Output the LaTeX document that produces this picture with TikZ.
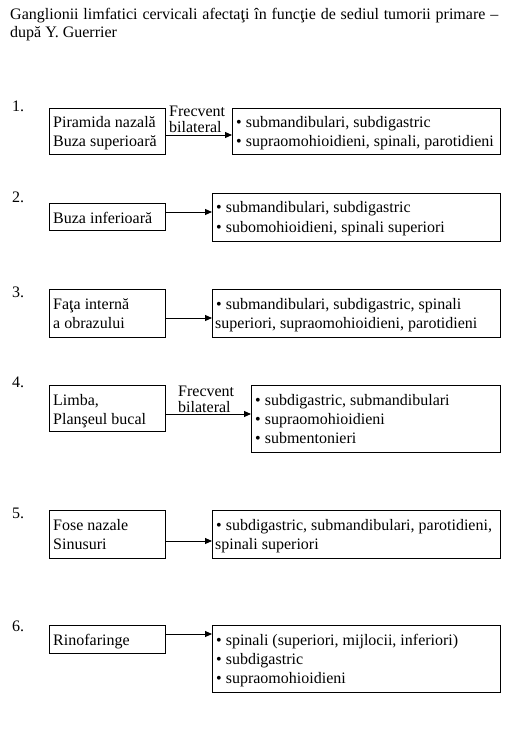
\documentclass[tikz,border=0pt]{standalone}
\usepackage{fontspec}
\setmainfont{Liberation Serif}
\usetikzlibrary{arrows.meta}
\tikzset{
  box/.style={draw, line width=0.9pt, inner sep=0pt, anchor=north west},
  txt/.style={anchor=base west, inner sep=0pt, font=\fontsize{16pt}{19pt}\selectfont},
  arr/.style={line width=0.9pt, -{Triangle[length=7pt,width=6pt]}}
}
\begin{document}
\begin{tikzpicture}[x=1pt,y=-1pt]
\useasboundingbox[fill=white] (0,0) rectangle (512,743);
% title
\node[txt] (title1) at (10,20) {\hbox to 488pt{Ganglionii limfatici cervicali afectaţi în funcţie de sediul tumorii primare –}};
\node[txt] (title2) at (10,38) {după Y. Guerrier};
% numbers
\node[txt] (n1) at (12,112) {1.};
\node[txt] (n2) at (12,203) {2.};
\node[txt] (n3) at (12,297) {3.};
\node[txt] (n4) at (12,387) {4.};
\node[txt] (n5) at (12,518) {5.};
\node[txt] (n6) at (12,631) {6.};
% boxes
\node[box, minimum width=116pt, minimum height=46pt] (l1) at (49,108) {};
\node[box, minimum width=268pt, minimum height=46pt] (r1) at (232,108) {};
\node[box, minimum width=116pt, minimum height=27pt] (l2) at (49,203) {};
\node[box, minimum width=288pt, minimum height=48pt] (r2) at (212,193) {};
\node[box, minimum width=116pt, minimum height=48pt] (l3) at (49,289) {};
\node[box, minimum width=288pt, minimum height=48pt] (r3) at (212,289) {};
\node[box, minimum width=116pt, minimum height=46pt] (l4) at (49,385) {};
\node[box, minimum width=249pt, minimum height=67pt] (r4) at (251,385) {};
\node[box, minimum width=116pt, minimum height=48pt] (l5) at (49,510) {};
\node[box, minimum width=288pt, minimum height=48pt] (r5) at (212,510) {};
\node[box, minimum width=116pt, minimum height=28pt] (l6) at (49,625) {};
\node[box, minimum width=288pt, minimum height=67pt] (r6) at (212,625) {};
% arrows
\draw[arr] (l1.east |- 0,135) -- (r1.west |- 0,135);
\draw[arr] (l2.east |- 0,212) -- (r2.west |- 0,212);
\draw[arr] (l3.east |- 0,318) -- (r3.west |- 0,318);
\draw[arr] (l4.east |- 0,414) -- (r4.west |- 0,414);
\draw[arr] (l5.east |- 0,541) -- (r5.west |- 0,541);
\draw[arr] (l6.east |- 0,634) -- (r6.west |- 0,634);
% arrow labels
\node[txt] (f1a) at (169,117) {Frecvent};
\node[txt] (f1b) at (169,133) {bilateral};
\node[txt] (f4a) at (178,396) {Frecvent};
\node[txt] (f4b) at (178,412) {bilateral};
% left texts
\node[txt] (a1) at (53,128) {Piramida nazală};
\node[txt] (a2) at (53,147) {Buza superioară};
\node[txt] (b1) at (53,223) {Buza inferioară};
\node[txt] (c1) at (53,309) {Faţa internă};
\node[txt] (c2) at (53,328) {a obrazului};
\node[txt] (d1) at (53,405) {Limba,};
\node[txt] (d2) at (53,424) {Planşeul bucal};
\node[txt] (e1) at (53,530) {Fose nazale};
\node[txt] (e2) at (53,549) {Sinusuri};
\node[txt] (g1) at (53,645) {Rinofaringe};
% right texts
\node[txt] (ra1) at (236,128) {• submandibulari, subdigastric};
\node[txt] (ra2) at (236,147) {• supraomohioidieni, spinali, parotidieni};
\node[txt] (rb1) at (216,213) {• submandibulari, subdigastric};
\node[txt] (rb2) at (216,232) {• subomohioidieni, spinali superiori};
\node[txt] (rc1) at (216,309) {• submandibulari, subdigastric, spinali};
\node[txt] (rc2) at (215,328) {superiori, supraomohioidieni, parotidieni};
\node[txt] (rd1) at (255,405) {• subdigastric, submandibulari};
\node[txt] (rd2) at (255,424) {• supraomohioidieni};
\node[txt] (rd3) at (255,443) {• submentonieri};
\node[txt] (re1) at (216,530) {• subdigastric, submandibulari, parotidieni,};
\node[txt] (re2) at (215,549) {spinali superiori};
\node[txt] (rg1) at (216,645) {• spinali (superiori, mijlocii, inferiori)};
\node[txt] (rg2) at (216,664) {• subdigastric};
\node[txt] (rg3) at (216,683) {• supraomohioidieni};
\end{tikzpicture}
\end{document}
